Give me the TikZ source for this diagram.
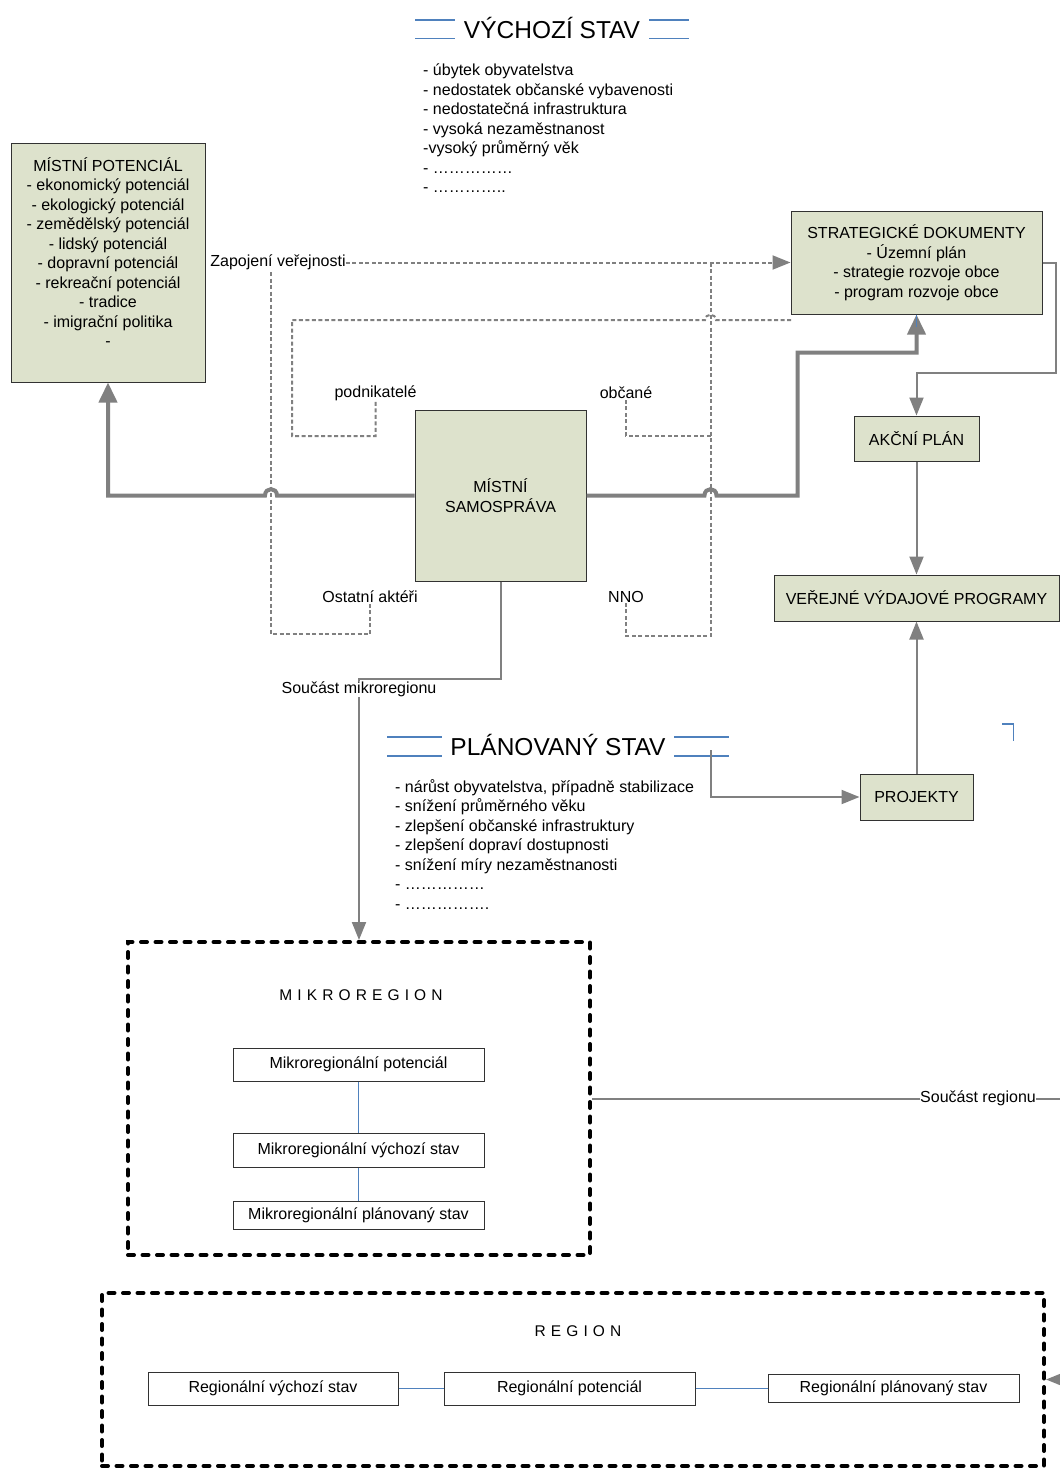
\documentclass[tikz,border=0pt]{standalone}
\usepackage{fontspec}
\setmainfont{Liberation Sans}
\usetikzlibrary{arrows.meta}
\definecolor{boxfill}{RGB}{221,226,204}
\definecolor{linegray}{RGB}{128,128,128}
\definecolor{officeblue}{RGB}{79,129,189}
\definecolor{boxedge}{RGB}{50,50,50}
\tikzset{
  txt/.style={font=\fontsize{16}{19.5}\selectfont, inner sep=0pt},
  greenbox/.style={txt, draw=boxedge, line width=1pt, fill=boxfill, align=center},
  whitebox/.style={txt, draw=boxedge, line width=1pt, fill=white, align=center},
  thickconn/.style={draw=linegray, line width=4pt},
  conn/.style={draw=linegray, line width=2pt},
  dashconn/.style={draw=linegray, line width=2pt, dash pattern=on 4pt off 2.5pt},
  bigtip/.style={-{Triangle[length=20pt,width=18pt]}},
  smalltip/.style={-{Triangle[length=18pt,width=14pt]}},
  blueline/.style={draw=officeblue, line width=1.5pt},
  groupframe/.style={draw=black, line width=4pt, dash pattern=on 6pt off 8.5pt, line cap=round, inner sep=0pt},
  bigtitle/.style={font=\fontsize{24.5}{28}\selectfont, inner sep=0pt},
  spacedlabel/.style={font=\fontsize{15.5}{18}\selectfont\addfontfeature{LetterSpace=33}, inner sep=0pt},
  listtext/.style={txt, align=left, anchor=north west}
}
\begin{document}
\begin{tikzpicture}[x=1pt,y=-1pt]
\useasboundingbox (0,0) rectangle (1060,1468);

% ---------- starting state ----------
\node[bigtitle] (vtitle) at (552,28) {VÝCHOZÍ STAV};
\draw[blueline] (415,20) -- (455,20) (415,38.5) -- (455,38.5);
\draw[blueline] (649,20) -- (689,20) (649,38.5) -- (689,38.5);
\node[listtext] (vlist) at (423,64) {- úbytek obyvatelstva\\- nedostatek občanské vybavenosti\\- nedostatečná infrastruktura\\- vysoká nezaměstnanost\\-vysoký průměrný věk\\- ……………\\- …………..};

% ---------- local potential ----------
\node[greenbox, minimum width=194pt, minimum height=239pt] (mp) at (108,262.5) {};
\node[txt, align=center] (mptext) at (108,252) {MÍSTNÍ POTENCIÁL\\- ekonomický potenciál\\- ekologický potenciál\\- zemědělský potenciál\\- lidský potenciál\\- dopravní potenciál\\- rekreační potenciál\\- tradice\\- imigrační politika\\-};

% ---------- right column ----------
\node[greenbox, minimum width=251pt, minimum height=103pt] (strat) at (916.5,262.5) {STRATEGICKÉ DOKUMENTY\\- Územní plán\\- strategie rozvoje obce\\- program rozvoje obce};
\node[greenbox, minimum width=125pt, minimum height=45pt] (ap) at (916.5,438.5) {AKČNÍ PLÁN};
\node[greenbox, minimum width=285pt, minimum height=46pt] (vvp) at (916.5,598) {VEŘEJNÉ VÝDAJOVÉ PROGRAMY};
\node[greenbox, minimum width=113pt, minimum height=46pt] (proj) at (916.5,797) {PROJEKTY};

% ---------- local government ----------
\node[greenbox, minimum width=171pt, minimum height=171pt] (ms) at (500.5,495.5) {MÍSTNÍ\\SAMOSPRÁVA};

% ---------- actor labels ----------
\node[txt] (zap) at (278,262.5) {Zapojení veřejnosti};
\node[txt] (pod) at (375.5,393) {podnikatelé};
\node[txt] (obc) at (626,393) {občané};
\node[txt] (oa) at (370,597) {Ostatní aktéři};
\node[txt] (nno) at (626,597) {NNO};

\coordinate (zapdrop) at (271,272);
\coordinate (stratlow) at (791,320);
\coordinate (vjunc) at (710.5,262.5);
\coordinate (ojunc) at (710.5,436);

% public participation (dashed)
\draw[dashconn, smalltip] (zap.east) -- (strat.west);
\draw[dashconn] (zapdrop) -- (271,634) -| (oa.south);
\draw[dashconn] (stratlow) -- (716,320) .. controls (716,313) and (705,313) .. (705,320) -- (292,320) -- (292,436) -| (pod.south);
\draw[dashconn] (vjunc) -- (710.5,636) -| (nno.south);
\draw[dashconn] (ojunc) -| (obc.south);

% main links of local government
\draw[thickconn, bigtip] (ms.west) -- (277,495.5) .. controls (277,487) and (265,487) .. (265,495.5) -- (108,495.5) -- (mp.south);
\draw[thickconn, bigtip] (ms.east) -- (704.5,495.5) .. controls (704.5,487) and (716.5,487) .. (716.5,495.5) -- (797.5,495.5) -- (797.5,352.5) -- (916.5,352.5) -- (strat.south);
\draw[blueline, line width=1pt] (strat.south) -- ++(0,12);

\draw[conn, smalltip] (strat.east) -- (1056,262.5) -- (1056,372.5) -- (916.5,372.5) -- (ap.north);
\draw[conn, smalltip] (ap.south) -- (vvp.north);
\draw[conn, smalltip] (proj.north) -- (vvp.south);

% ---------- planned state ----------
\node[bigtitle] (ptitle) at (558,745) {PLÁNOVANÝ STAV};
\draw[blueline] (387,737) -- (442,737) (387,756) -- (442,756);
\draw[blueline] (674,737) -- (729,737) (674,756) -- (729,756);
\node[listtext] (plist) at (395,779) {- nárůst obyvatelstva, případně stabilizace\\- snížení průměrného věku\\- zlepšení občanské infrastruktury\\- zlepšení dopraví dostupnosti\\- snížení míry nezaměstnanosti\\- ……………\\- …………….};
\coordinate (plend) at (711,750);
\draw[conn, smalltip] (plend) |- (proj.west);
\draw[blueline] (1002,724) -- (1013.5,724) -- (1013.5,741);

% ---------- micro-region ----------
\node[groupframe, minimum width=462pt, minimum height=313pt] (mikro) at (359,1098.5) {};
\node[spacedlabel] (mlab) at (361,995) {MIKROREGION};
\node[whitebox, minimum width=251pt, minimum height=33pt] (mb1) at (358.5,1064.5) {Mikroregionální potenciál};
\node[whitebox, minimum width=251pt, minimum height=34pt] (mb2) at (358.5,1150) {Mikroregionální výchozí stav};
\node[whitebox, minimum width=251pt, minimum height=28pt] (mb3) at (358.5,1215) {Mikroregionální plánovaný stav};
\draw[blueline, line width=1.2pt] (mb1.south) -- (mb2.north);
\draw[blueline, line width=1.2pt] (mb2.south) -- (mb3.north);

\node[txt] (smr) at (359,689) {Součást mikroregionu};
\draw[conn] (ms.south) |- (359,679) -- (smr.north);
\draw[conn, smalltip] (smr.south) -- (mikro.north);

% ---------- region ----------
\node[groupframe, minimum width=942pt, minimum height=173pt] (region) at (573,1379.5) {};
\node[spacedlabel] (rlab) at (578,1331) {REGION};
\node[whitebox, minimum width=250pt, minimum height=33pt] (rb1) at (273,1388.5) {Regionální výchozí stav};
\node[whitebox, minimum width=251pt, minimum height=33pt] (rb2) at (569.5,1388.5) {Regionální potenciál};
\node[whitebox, minimum width=251pt, minimum height=28pt] (rb3) at (893.5,1388.5) {Regionální plánovaný stav};
\draw[blueline, line width=1.2pt] (rb1.east) -- (rb2.west);
\draw[blueline, line width=1.2pt] (rb2.east) -- (rb3.west);

\node[txt] (sr) at (978,1098.5) {Součást regionu};
\draw[conn] (mikro.east) -- (sr.west);
\draw[conn, smalltip] (sr.east) -- (1080,1098.5) |- (region.east);
\end{tikzpicture}
\end{document}
